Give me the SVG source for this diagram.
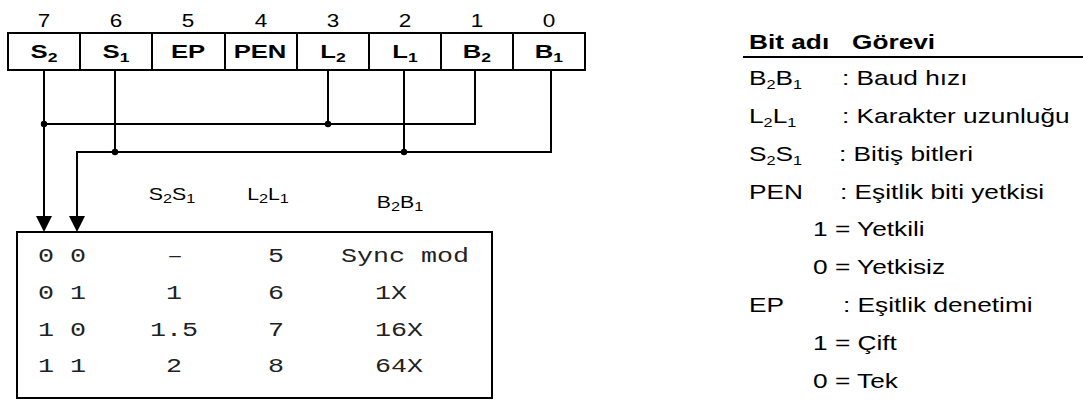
<svg xmlns="http://www.w3.org/2000/svg" width="1083" height="403" viewBox="0 0 1083 403">
<style>
.num{font-family:"Liberation Sans",Arial,sans-serif;font-size:18px;text-anchor:middle;fill:#000}
.cell{font-family:"Liberation Sans",Arial,sans-serif;font-size:19px;font-weight:bold;text-anchor:middle;fill:#000}
.hdr{font-family:"Liberation Sans",Arial,sans-serif;font-size:17px;text-anchor:middle;fill:#000}
.mono{font-family:"Liberation Mono","Courier New",monospace;font-size:21px;fill:#222}
.leg{font-family:"Liberation Sans",Arial,sans-serif;font-size:21px;fill:#000}
.legb{font-family:"Liberation Sans",Arial,sans-serif;font-size:21px;font-weight:bold;fill:#000}
.ln{fill:none;stroke:#000;stroke-width:2}
.dot{fill:#000}
.sub{font-size:13px}
</style>
<rect width="1083" height="403" fill="#fff"/>
<g id="register">
<rect class="ln" x="8" y="33" width="577" height="37"/>
<path class="ln" d="M80,33V70M152,33V70M225,33V70M297,33V70M369,33V70M441,33V70M513,33V70"/>
<text class="num" transform="translate(44,27) scale(1.25,1)">7</text>
<text class="num" transform="translate(116,27) scale(1.25,1)">6</text>
<text class="num" transform="translate(188,27) scale(1.25,1)">5</text>
<text class="num" transform="translate(261,27) scale(1.25,1)">4</text>
<text class="num" transform="translate(333,27) scale(1.25,1)">3</text>
<text class="num" transform="translate(405,27) scale(1.25,1)">2</text>
<text class="num" transform="translate(477,27) scale(1.25,1)">1</text>
<text class="num" transform="translate(549,27) scale(1.25,1)">0</text>
<text class="cell" transform="translate(44,58) scale(1.35,1)">S<tspan class="sub" dy="4">2</tspan></text>
<text class="cell" transform="translate(116,58) scale(1.35,1)">S<tspan class="sub" dy="4">1</tspan></text>
<text class="cell" transform="translate(188,58) scale(1.35,1)">EP</text>
<text class="cell" transform="translate(260,58) scale(1.35,1)">PEN</text>
<text class="cell" transform="translate(333,58) scale(1.35,1)">L<tspan class="sub" dy="4">2</tspan></text>
<text class="cell" transform="translate(405,58) scale(1.35,1)">L<tspan class="sub" dy="4">1</tspan></text>
<text class="cell" transform="translate(477,58) scale(1.35,1)">B<tspan class="sub" dy="4">2</tspan></text>
<text class="cell" transform="translate(549,58) scale(1.35,1)">B<tspan class="sub" dy="4">1</tspan></text>
</g>
<g id="connectors">
<path class="ln" d="M475,70V124H44"/>
<path class="ln" d="M44,70V218"/>
<path class="ln" d="M328,70V124"/>
<path class="ln" d="M551,70V152H77V218"/>
<path class="ln" d="M115,70V152"/>
<path class="ln" d="M404,70V152"/>
<circle class="dot" cx="44" cy="124" r="3.2"/>
<circle class="dot" cx="328" cy="124" r="3.2"/>
<circle class="dot" cx="115" cy="152" r="3.2"/>
<circle class="dot" cx="404" cy="152" r="3.2"/>
<polygon points="36,216 52,216 44,232"/>
<polygon points="69,216 85,216 77,232"/>
</g>
<g id="table">
<rect class="ln" x="17" y="232" width="475" height="166"/>
<text class="hdr" transform="translate(172,200) scale(1.25,1)">S<tspan class="sub" dy="3">2</tspan><tspan dy="-3">S</tspan><tspan class="sub" dy="3">1</tspan></text>
<text class="hdr" transform="translate(268,200) scale(1.25,1)">L<tspan class="sub" dy="3">2</tspan><tspan dy="-3">L</tspan><tspan class="sub" dy="3">1</tspan></text>
<text class="hdr" transform="translate(400,208) scale(1.25,1)">B<tspan class="sub" dy="3">2</tspan><tspan dy="-3">B</tspan><tspan class="sub" dy="3">1</tspan></text>
<text class="mono" transform="translate(38,262) scale(1.27,1)">0 0</text>
<text class="mono" transform="translate(38,299) scale(1.27,1)">0 1</text>
<text class="mono" transform="translate(38,336) scale(1.27,1)">1 0</text>
<text class="mono" transform="translate(38,372) scale(1.27,1)">1 1</text>
<text class="mono" transform="translate(167,262) scale(1.27,1)">–</text>
<text class="mono" transform="translate(166,299) scale(1.27,1)">1</text>
<text class="mono" transform="translate(150,336) scale(1.27,1)">1.5</text>
<text class="mono" transform="translate(166,372) scale(1.27,1)">2</text>
<text class="mono" transform="translate(268,262) scale(1.27,1)">5</text>
<text class="mono" transform="translate(268,299) scale(1.27,1)">6</text>
<text class="mono" transform="translate(268,336) scale(1.27,1)">7</text>
<text class="mono" transform="translate(268,372) scale(1.27,1)">8</text>
<text class="mono" transform="translate(341,262) scale(1.27,1)">Sync mod</text>
<text class="mono" transform="translate(375,299) scale(1.27,1)">1X</text>
<text class="mono" transform="translate(375,336) scale(1.27,1)">16X</text>
<text class="mono" transform="translate(375,372) scale(1.27,1)">64X</text>
</g>
<g id="legend">
<text class="legb" transform="translate(749,49) scale(1.25,1)">Bit adı</text>
<text class="legb" transform="translate(852,49) scale(1.25,1)">Görevi</text>
<path class="ln" d="M743,57H1083"/>
<text class="leg" transform="translate(749,85) scale(1.25,1)">B<tspan class="sub" dy="4">2</tspan><tspan dy="-4">B</tspan><tspan class="sub" dy="4">1</tspan></text>
<text class="leg" transform="translate(842,85) scale(1.25,1)">: Baud hızı</text>
<text class="leg" transform="translate(749,123) scale(1.25,1)">L<tspan class="sub" dy="4">2</tspan><tspan dy="-4">L</tspan><tspan class="sub" dy="4">1</tspan></text>
<text class="leg" transform="translate(842,123) scale(1.25,1)">: Karakter uzunluğu</text>
<text class="leg" transform="translate(749,161) scale(1.25,1)">S<tspan class="sub" dy="4">2</tspan><tspan dy="-4">S</tspan><tspan class="sub" dy="4">1</tspan></text>
<text class="leg" transform="translate(839,161) scale(1.25,1)">: Bitiş bitleri</text>
<text class="leg" transform="translate(749,199) scale(1.25,1)">PEN</text>
<text class="leg" transform="translate(840,199) scale(1.25,1)">: Eşitlik biti yetkisi</text>
<text class="leg" transform="translate(813,236) scale(1.25,1)">1 = Yetkili</text>
<text class="leg" transform="translate(813,274) scale(1.25,1)">0 = Yetkisiz</text>
<text class="leg" transform="translate(749,312) scale(1.25,1)">EP</text>
<text class="leg" transform="translate(843,312) scale(1.25,1)">: Eşitlik denetimi</text>
<text class="leg" transform="translate(813,350) scale(1.25,1)">1 = Çift</text>
<text class="leg" transform="translate(813,388) scale(1.25,1)">0 = Tek</text>
</g>
</svg>
